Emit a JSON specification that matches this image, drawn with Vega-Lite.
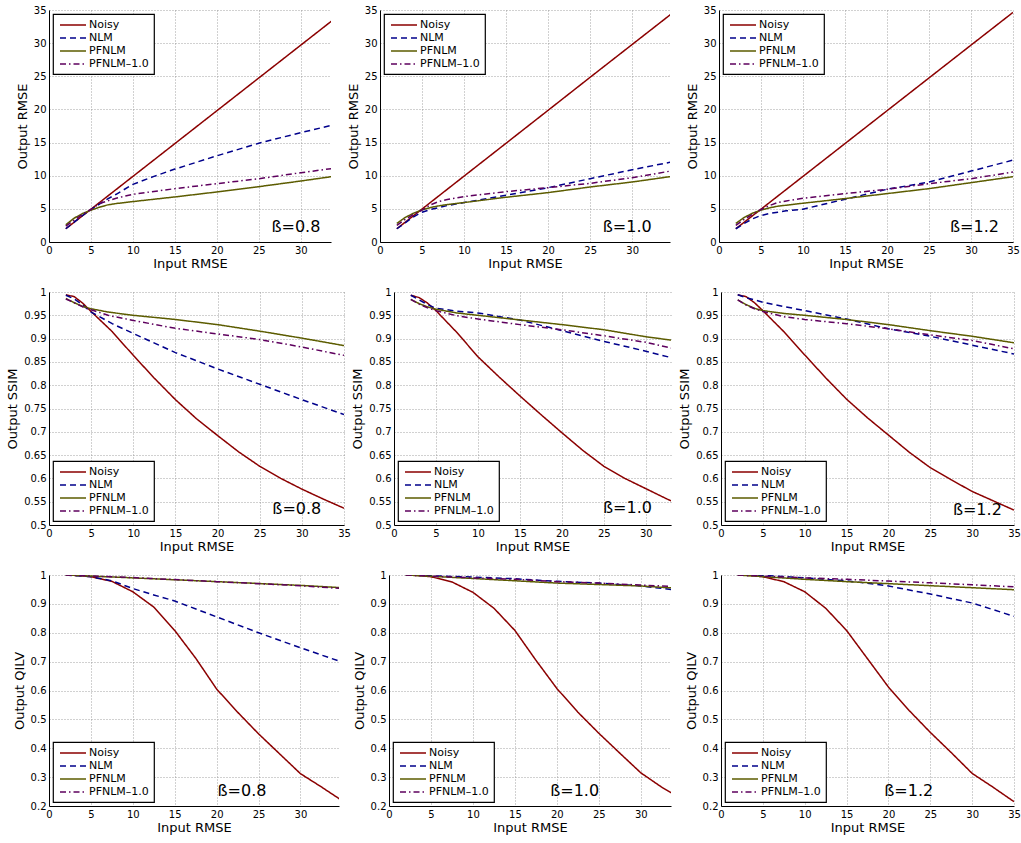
{
"$schema": "https://vega.github.io/schema/vega-lite/v6.json",
"padding": {"left": 6, "top": 5, "right": 0, "bottom": 5},
"background": "white",
"config": {
  "font": "DejaVu Sans",
  "view": {"stroke": null},
  "axis": {"labelFont": "DejaVu Sans", "labelFontSize": 10, "labelColor": "black", "titleFont": "DejaVu Sans", "titleFontSize": 13, "titleFontWeight": "normal", "titleColor": "black", "domainColor": "black", "domainWidth": 1, "ticks": false, "labelPadding": 3, "gridColor": "#8a8a8a", "gridDash": [1, 2], "gridWidth": 0.8, "grid": true, "labelFlush": false, "labelOverlap": false},
  "axisX": {"titlePadding": 2},
  "axisY": {"titlePadding": 4},
  "legend": {"strokeColor": "black", "fillColor": "white", "padding": 5, "offset": 4, "labelFont": "DejaVu Sans", "labelFontSize": 11, "labelColor": "black", "symbolType": "M-0.8,0H4.4", "symbolSize": 100, "symbolStrokeWidth": 1.5, "labelOffset": 19, "rowPadding": 2, "title": null, "cornerRadius": 0, "strokeWidth": 1.2}
},
"datasets": {
"t": [
 {"p": 1, "x": 26.5, "y": 2.2, "t": "ß=0.8"},
 {"p": 2, "x": 26.5, "y": 2.2, "t": "ß=1.0"},
 {"p": 3, "x": 27.5, "y": 2.2, "t": "ß=1.2"},
 {"p": 4, "x": 26.5, "y": 0.534, "t": "ß=0.8"},
 {"p": 5, "x": 24.9, "y": 0.536, "t": "ß=1.0"},
 {"p": 6, "x": 27.7, "y": 0.532, "t": "ß=1.2"},
 {"p": 7, "x": 20.1, "y": 0.252, "t": "ß=0.8"},
 {"p": 8, "x": 19.2, "y": 0.252, "t": "ß=1.0"},
 {"p": 9, "x": 19.5, "y": 0.252, "t": "ß=1.2"}
],
"c": [
 {"p":1,"m":"Noisy","x":2,"y":2.0},{"p":1,"m":"Noisy","x":5,"y":4.95},{"p":1,"m":"Noisy","x":10,"y":9.9},{"p":1,"m":"Noisy","x":15,"y":14.85},{"p":1,"m":"Noisy","x":20,"y":19.8},{"p":1,"m":"Noisy","x":25,"y":24.75},{"p":1,"m":"Noisy","x":30,"y":29.7},{"p":1,"m":"Noisy","x":35,"y":34.65},
 {"p":1,"m":"NLM","x":2,"y":2.0},{"p":1,"m":"NLM","x":3,"y":3.0},{"p":1,"m":"NLM","x":4,"y":4.0},{"p":1,"m":"NLM","x":5,"y":4.9},{"p":1,"m":"NLM","x":6,"y":5.7},{"p":1,"m":"NLM","x":7,"y":6.5},{"p":1,"m":"NLM","x":8,"y":7.2},{"p":1,"m":"NLM","x":10,"y":8.7},{"p":1,"m":"NLM","x":12.5,"y":9.9},{"p":1,"m":"NLM","x":15,"y":11.0},{"p":1,"m":"NLM","x":20,"y":13.0},{"p":1,"m":"NLM","x":25,"y":14.9},{"p":1,"m":"NLM","x":30,"y":16.5},{"p":1,"m":"NLM","x":35,"y":18.0},
 {"p":1,"m":"PFNLM","x":2,"y":2.6},{"p":1,"m":"PFNLM","x":3,"y":3.6},{"p":1,"m":"PFNLM","x":4,"y":4.3},{"p":1,"m":"PFNLM","x":5,"y":4.8},{"p":1,"m":"PFNLM","x":6,"y":5.25},{"p":1,"m":"PFNLM","x":7,"y":5.6},{"p":1,"m":"PFNLM","x":8,"y":5.8},{"p":1,"m":"PFNLM","x":10,"y":6.1},{"p":1,"m":"PFNLM","x":15,"y":6.8},{"p":1,"m":"PFNLM","x":20,"y":7.55},{"p":1,"m":"PFNLM","x":25,"y":8.35},{"p":1,"m":"PFNLM","x":30,"y":9.2},{"p":1,"m":"PFNLM","x":35,"y":10.1},
 {"p":1,"m":"PFNLM–1.0","x":2,"y":2.4},{"p":1,"m":"PFNLM–1.0","x":3,"y":3.3},{"p":1,"m":"PFNLM–1.0","x":4,"y":4.2},{"p":1,"m":"PFNLM–1.0","x":5,"y":4.9},{"p":1,"m":"PFNLM–1.0","x":6,"y":5.8},{"p":1,"m":"PFNLM–1.0","x":7,"y":6.2},{"p":1,"m":"PFNLM–1.0","x":8,"y":6.6},{"p":1,"m":"PFNLM–1.0","x":10,"y":7.2},{"p":1,"m":"PFNLM–1.0","x":15,"y":8.05},{"p":1,"m":"PFNLM–1.0","x":20,"y":8.8},{"p":1,"m":"PFNLM–1.0","x":25,"y":9.55},{"p":1,"m":"PFNLM–1.0","x":30,"y":10.45},{"p":1,"m":"PFNLM–1.0","x":35,"y":11.3},

 {"p":2,"m":"Noisy","x":2,"y":2.0},{"p":2,"m":"Noisy","x":5,"y":4.97},{"p":2,"m":"Noisy","x":10,"y":9.94},{"p":2,"m":"Noisy","x":15,"y":14.9},{"p":2,"m":"Noisy","x":20,"y":19.87},{"p":2,"m":"Noisy","x":25,"y":24.85},{"p":2,"m":"Noisy","x":30,"y":29.8},{"p":2,"m":"Noisy","x":35,"y":34.75},
 {"p":2,"m":"NLM","x":2,"y":2.0},{"p":2,"m":"NLM","x":3,"y":2.9},{"p":2,"m":"NLM","x":4,"y":3.8},{"p":2,"m":"NLM","x":5,"y":4.5},{"p":2,"m":"NLM","x":6,"y":4.9},{"p":2,"m":"NLM","x":7,"y":5.2},{"p":2,"m":"NLM","x":8,"y":5.5},{"p":2,"m":"NLM","x":10,"y":5.95},{"p":2,"m":"NLM","x":15,"y":7.05},{"p":2,"m":"NLM","x":20,"y":8.2},{"p":2,"m":"NLM","x":25,"y":9.55},{"p":2,"m":"NLM","x":30,"y":10.9},{"p":2,"m":"NLM","x":35,"y":12.15},
 {"p":2,"m":"PFNLM","x":2,"y":2.8},{"p":2,"m":"PFNLM","x":3,"y":3.7},{"p":2,"m":"PFNLM","x":4,"y":4.35},{"p":2,"m":"PFNLM","x":5,"y":4.85},{"p":2,"m":"PFNLM","x":6,"y":5.2},{"p":2,"m":"PFNLM","x":7,"y":5.45},{"p":2,"m":"PFNLM","x":8,"y":5.65},{"p":2,"m":"PFNLM","x":10,"y":5.95},{"p":2,"m":"PFNLM","x":15,"y":6.75},{"p":2,"m":"PFNLM","x":20,"y":7.45},{"p":2,"m":"PFNLM","x":25,"y":8.3},{"p":2,"m":"PFNLM","x":30,"y":9.05},{"p":2,"m":"PFNLM","x":35,"y":9.95},
 {"p":2,"m":"PFNLM–1.0","x":2,"y":2.5},{"p":2,"m":"PFNLM–1.0","x":3,"y":3.4},{"p":2,"m":"PFNLM–1.0","x":4,"y":4.2},{"p":2,"m":"PFNLM–1.0","x":5,"y":4.8},{"p":2,"m":"PFNLM–1.0","x":6,"y":5.6},{"p":2,"m":"PFNLM–1.0","x":7,"y":6.1},{"p":2,"m":"PFNLM–1.0","x":8,"y":6.4},{"p":2,"m":"PFNLM–1.0","x":10,"y":6.85},{"p":2,"m":"PFNLM–1.0","x":15,"y":7.6},{"p":2,"m":"PFNLM–1.0","x":20,"y":8.2},{"p":2,"m":"PFNLM–1.0","x":25,"y":8.85},{"p":2,"m":"PFNLM–1.0","x":30,"y":9.7},{"p":2,"m":"PFNLM–1.0","x":35,"y":10.8},

 {"p":3,"m":"Noisy","x":2,"y":2.0},{"p":3,"m":"Noisy","x":5,"y":4.95},{"p":3,"m":"Noisy","x":10,"y":9.9},{"p":3,"m":"Noisy","x":15,"y":14.85},{"p":3,"m":"Noisy","x":20,"y":19.8},{"p":3,"m":"Noisy","x":25,"y":24.75},{"p":3,"m":"Noisy","x":30,"y":29.7},{"p":3,"m":"Noisy","x":35,"y":34.64},
 {"p":3,"m":"NLM","x":2,"y":2.0},{"p":3,"m":"NLM","x":3,"y":2.8},{"p":3,"m":"NLM","x":4,"y":3.5},{"p":3,"m":"NLM","x":5,"y":4.0},{"p":3,"m":"NLM","x":6,"y":4.3},{"p":3,"m":"NLM","x":7,"y":4.5},{"p":3,"m":"NLM","x":8,"y":4.7},{"p":3,"m":"NLM","x":10,"y":4.95},{"p":3,"m":"NLM","x":15,"y":6.45},{"p":3,"m":"NLM","x":20,"y":7.95},{"p":3,"m":"NLM","x":25,"y":9.05},{"p":3,"m":"NLM","x":30,"y":10.7},{"p":3,"m":"NLM","x":35,"y":12.35},
 {"p":3,"m":"PFNLM","x":2,"y":2.8},{"p":3,"m":"PFNLM","x":3,"y":3.7},{"p":3,"m":"PFNLM","x":4,"y":4.35},{"p":3,"m":"PFNLM","x":5,"y":4.8},{"p":3,"m":"PFNLM","x":6,"y":5.15},{"p":3,"m":"PFNLM","x":7,"y":5.4},{"p":3,"m":"PFNLM","x":8,"y":5.55},{"p":3,"m":"PFNLM","x":10,"y":5.85},{"p":3,"m":"PFNLM","x":15,"y":6.55},{"p":3,"m":"PFNLM","x":20,"y":7.3},{"p":3,"m":"PFNLM","x":25,"y":8.05},{"p":3,"m":"PFNLM","x":30,"y":8.95},{"p":3,"m":"PFNLM","x":35,"y":9.85},
 {"p":3,"m":"PFNLM–1.0","x":2,"y":2.5},{"p":3,"m":"PFNLM–1.0","x":3,"y":3.4},{"p":3,"m":"PFNLM–1.0","x":4,"y":4.2},{"p":3,"m":"PFNLM–1.0","x":5,"y":4.9},{"p":3,"m":"PFNLM–1.0","x":6,"y":5.5},{"p":3,"m":"PFNLM–1.0","x":7,"y":5.95},{"p":3,"m":"PFNLM–1.0","x":8,"y":6.2},{"p":3,"m":"PFNLM–1.0","x":10,"y":6.6},{"p":3,"m":"PFNLM–1.0","x":15,"y":7.3},{"p":3,"m":"PFNLM–1.0","x":20,"y":7.95},{"p":3,"m":"PFNLM–1.0","x":25,"y":8.8},{"p":3,"m":"PFNLM–1.0","x":30,"y":9.55},{"p":3,"m":"PFNLM–1.0","x":35,"y":10.55},

 {"p":4,"m":"Noisy","x":2,"y":0.994},{"p":4,"m":"Noisy","x":3,"y":0.99},{"p":4,"m":"Noisy","x":4,"y":0.976},{"p":4,"m":"Noisy","x":5,"y":0.958},{"p":4,"m":"Noisy","x":7.5,"y":0.915},{"p":4,"m":"Noisy","x":10,"y":0.864},{"p":4,"m":"Noisy","x":12.5,"y":0.815},{"p":4,"m":"Noisy","x":15,"y":0.769},{"p":4,"m":"Noisy","x":17.5,"y":0.728},{"p":4,"m":"Noisy","x":20,"y":0.692},{"p":4,"m":"Noisy","x":22.5,"y":0.657},{"p":4,"m":"Noisy","x":25,"y":0.626},{"p":4,"m":"Noisy","x":27.5,"y":0.6},{"p":4,"m":"Noisy","x":30,"y":0.577},{"p":4,"m":"Noisy","x":32.5,"y":0.556},{"p":4,"m":"Noisy","x":35,"y":0.536},
 {"p":4,"m":"NLM","x":2,"y":0.993},{"p":4,"m":"NLM","x":3,"y":0.985},{"p":4,"m":"NLM","x":4,"y":0.972},{"p":4,"m":"NLM","x":5,"y":0.957},{"p":4,"m":"NLM","x":7.5,"y":0.932},{"p":4,"m":"NLM","x":10,"y":0.911},{"p":4,"m":"NLM","x":15,"y":0.87},{"p":4,"m":"NLM","x":20,"y":0.835},{"p":4,"m":"NLM","x":25,"y":0.802},{"p":4,"m":"NLM","x":30,"y":0.769},{"p":4,"m":"NLM","x":35,"y":0.737},
 {"p":4,"m":"PFNLM","x":2,"y":0.986},{"p":4,"m":"PFNLM","x":3,"y":0.977},{"p":4,"m":"PFNLM","x":4,"y":0.969},{"p":4,"m":"PFNLM","x":5,"y":0.964},{"p":4,"m":"PFNLM","x":7,"y":0.957},{"p":4,"m":"PFNLM","x":10,"y":0.95},{"p":4,"m":"PFNLM","x":15,"y":0.941},{"p":4,"m":"PFNLM","x":20,"y":0.93},{"p":4,"m":"PFNLM","x":25,"y":0.916},{"p":4,"m":"PFNLM","x":30,"y":0.901},{"p":4,"m":"PFNLM","x":35,"y":0.885},
 {"p":4,"m":"PFNLM–1.0","x":2,"y":0.985},{"p":4,"m":"PFNLM–1.0","x":3,"y":0.977},{"p":4,"m":"PFNLM–1.0","x":4,"y":0.968},{"p":4,"m":"PFNLM–1.0","x":5,"y":0.962},{"p":4,"m":"PFNLM–1.0","x":7,"y":0.95},{"p":4,"m":"PFNLM–1.0","x":10,"y":0.939},{"p":4,"m":"PFNLM–1.0","x":15,"y":0.922},{"p":4,"m":"PFNLM–1.0","x":20,"y":0.91},{"p":4,"m":"PFNLM–1.0","x":25,"y":0.898},{"p":4,"m":"PFNLM–1.0","x":30,"y":0.882},{"p":4,"m":"PFNLM–1.0","x":35,"y":0.864},

 {"p":5,"m":"Noisy","x":2,"y":0.993},{"p":5,"m":"Noisy","x":3,"y":0.988},{"p":5,"m":"Noisy","x":4,"y":0.976},{"p":5,"m":"Noisy","x":5,"y":0.96},{"p":5,"m":"Noisy","x":7.5,"y":0.913},{"p":5,"m":"Noisy","x":10,"y":0.861},{"p":5,"m":"Noisy","x":12.5,"y":0.818},{"p":5,"m":"Noisy","x":15,"y":0.777},{"p":5,"m":"Noisy","x":17.5,"y":0.737},{"p":5,"m":"Noisy","x":20,"y":0.698},{"p":5,"m":"Noisy","x":22.5,"y":0.66},{"p":5,"m":"Noisy","x":25,"y":0.626},{"p":5,"m":"Noisy","x":27.5,"y":0.6},{"p":5,"m":"Noisy","x":30,"y":0.578},{"p":5,"m":"Noisy","x":32.5,"y":0.556},{"p":5,"m":"Noisy","x":35,"y":0.536},
 {"p":5,"m":"NLM","x":2,"y":0.993},{"p":5,"m":"NLM","x":3,"y":0.983},{"p":5,"m":"NLM","x":4,"y":0.973},{"p":5,"m":"NLM","x":5,"y":0.965},{"p":5,"m":"NLM","x":7.5,"y":0.959},{"p":5,"m":"NLM","x":10,"y":0.955},{"p":5,"m":"NLM","x":15,"y":0.94},{"p":5,"m":"NLM","x":20,"y":0.917},{"p":5,"m":"NLM","x":25,"y":0.894},{"p":5,"m":"NLM","x":30,"y":0.873},{"p":5,"m":"NLM","x":35,"y":0.85},
 {"p":5,"m":"PFNLM","x":2,"y":0.984},{"p":5,"m":"PFNLM","x":3,"y":0.975},{"p":5,"m":"PFNLM","x":4,"y":0.968},{"p":5,"m":"PFNLM","x":5,"y":0.963},{"p":5,"m":"PFNLM","x":7.5,"y":0.955},{"p":5,"m":"PFNLM","x":10,"y":0.95},{"p":5,"m":"PFNLM","x":15,"y":0.94},{"p":5,"m":"PFNLM","x":20,"y":0.93},{"p":5,"m":"PFNLM","x":25,"y":0.919},{"p":5,"m":"PFNLM","x":30,"y":0.904},{"p":5,"m":"PFNLM","x":35,"y":0.892},
 {"p":5,"m":"PFNLM–1.0","x":2,"y":0.984},{"p":5,"m":"PFNLM–1.0","x":3,"y":0.974},{"p":5,"m":"PFNLM–1.0","x":4,"y":0.966},{"p":5,"m":"PFNLM–1.0","x":5,"y":0.96},{"p":5,"m":"PFNLM–1.0","x":7.5,"y":0.949},{"p":5,"m":"PFNLM–1.0","x":10,"y":0.942},{"p":5,"m":"PFNLM–1.0","x":15,"y":0.93},{"p":5,"m":"PFNLM–1.0","x":20,"y":0.919},{"p":5,"m":"PFNLM–1.0","x":25,"y":0.906},{"p":5,"m":"PFNLM–1.0","x":30,"y":0.892},{"p":5,"m":"PFNLM–1.0","x":35,"y":0.872},

 {"p":6,"m":"Noisy","x":2,"y":0.994},{"p":6,"m":"Noisy","x":3,"y":0.99},{"p":6,"m":"Noisy","x":4,"y":0.977},{"p":6,"m":"Noisy","x":5,"y":0.96},{"p":6,"m":"Noisy","x":7.5,"y":0.915},{"p":6,"m":"Noisy","x":10,"y":0.865},{"p":6,"m":"Noisy","x":12.5,"y":0.816},{"p":6,"m":"Noisy","x":15,"y":0.77},{"p":6,"m":"Noisy","x":17.5,"y":0.73},{"p":6,"m":"Noisy","x":20,"y":0.693},{"p":6,"m":"Noisy","x":22.5,"y":0.656},{"p":6,"m":"Noisy","x":25,"y":0.623},{"p":6,"m":"Noisy","x":27.5,"y":0.597},{"p":6,"m":"Noisy","x":30,"y":0.572},{"p":6,"m":"Noisy","x":32.5,"y":0.552},{"p":6,"m":"Noisy","x":35,"y":0.532},
 {"p":6,"m":"NLM","x":2,"y":0.994},{"p":6,"m":"NLM","x":3,"y":0.988},{"p":6,"m":"NLM","x":4,"y":0.983},{"p":6,"m":"NLM","x":5,"y":0.978},{"p":6,"m":"NLM","x":7.5,"y":0.969},{"p":6,"m":"NLM","x":10,"y":0.96},{"p":6,"m":"NLM","x":15,"y":0.942},{"p":6,"m":"NLM","x":20,"y":0.921},{"p":6,"m":"NLM","x":25,"y":0.905},{"p":6,"m":"NLM","x":30,"y":0.886},{"p":6,"m":"NLM","x":35,"y":0.867},
 {"p":6,"m":"PFNLM","x":2,"y":0.983},{"p":6,"m":"PFNLM","x":3,"y":0.973},{"p":6,"m":"PFNLM","x":4,"y":0.965},{"p":6,"m":"PFNLM","x":5,"y":0.96},{"p":6,"m":"PFNLM","x":7.5,"y":0.954},{"p":6,"m":"PFNLM","x":10,"y":0.95},{"p":6,"m":"PFNLM","x":15,"y":0.941},{"p":6,"m":"PFNLM","x":20,"y":0.93},{"p":6,"m":"PFNLM","x":25,"y":0.917},{"p":6,"m":"PFNLM","x":30,"y":0.905},{"p":6,"m":"PFNLM","x":35,"y":0.891},
 {"p":6,"m":"PFNLM–1.0","x":2,"y":0.983},{"p":6,"m":"PFNLM–1.0","x":3,"y":0.972},{"p":6,"m":"PFNLM–1.0","x":4,"y":0.964},{"p":6,"m":"PFNLM–1.0","x":5,"y":0.958},{"p":6,"m":"PFNLM–1.0","x":7.5,"y":0.947},{"p":6,"m":"PFNLM–1.0","x":10,"y":0.941},{"p":6,"m":"PFNLM–1.0","x":15,"y":0.932},{"p":6,"m":"PFNLM–1.0","x":20,"y":0.921},{"p":6,"m":"PFNLM–1.0","x":25,"y":0.908},{"p":6,"m":"PFNLM–1.0","x":30,"y":0.896},{"p":6,"m":"PFNLM–1.0","x":35,"y":0.878},

 {"p":7,"m":"Noisy","x":2,"y":1.0},{"p":7,"m":"Noisy","x":3,"y":0.999},{"p":7,"m":"Noisy","x":4,"y":0.997},{"p":7,"m":"Noisy","x":5,"y":0.994},{"p":7,"m":"Noisy","x":7.5,"y":0.978},{"p":7,"m":"Noisy","x":10,"y":0.942},{"p":7,"m":"Noisy","x":12.5,"y":0.889},{"p":7,"m":"Noisy","x":15,"y":0.808},{"p":7,"m":"Noisy","x":17.5,"y":0.712},{"p":7,"m":"Noisy","x":20,"y":0.605},{"p":7,"m":"Noisy","x":22.5,"y":0.525},{"p":7,"m":"Noisy","x":25,"y":0.45},{"p":7,"m":"Noisy","x":27.5,"y":0.381},{"p":7,"m":"Noisy","x":30,"y":0.312},{"p":7,"m":"Noisy","x":32.5,"y":0.266},{"p":7,"m":"Noisy","x":35,"y":0.218},
 {"p":7,"m":"NLM","x":2,"y":1.0},{"p":7,"m":"NLM","x":5,"y":0.994},{"p":7,"m":"NLM","x":7.5,"y":0.98},{"p":7,"m":"NLM","x":10,"y":0.953},{"p":7,"m":"NLM","x":12.5,"y":0.931},{"p":7,"m":"NLM","x":15,"y":0.91},{"p":7,"m":"NLM","x":20,"y":0.855},{"p":7,"m":"NLM","x":25,"y":0.8},{"p":7,"m":"NLM","x":30,"y":0.748},{"p":7,"m":"NLM","x":35,"y":0.698},
 {"p":7,"m":"PFNLM","x":2,"y":1.0},{"p":7,"m":"PFNLM","x":10,"y":0.99},{"p":7,"m":"PFNLM","x":20,"y":0.977},{"p":7,"m":"PFNLM","x":30,"y":0.964},{"p":7,"m":"PFNLM","x":35,"y":0.956},
 {"p":7,"m":"PFNLM–1.0","x":2,"y":1.0},{"p":7,"m":"PFNLM–1.0","x":10,"y":0.991},{"p":7,"m":"PFNLM–1.0","x":20,"y":0.977},{"p":7,"m":"PFNLM–1.0","x":30,"y":0.963},{"p":7,"m":"PFNLM–1.0","x":35,"y":0.953},

 {"p":8,"m":"Noisy","x":2,"y":1.0},{"p":8,"m":"Noisy","x":3,"y":0.999},{"p":8,"m":"Noisy","x":4,"y":0.997},{"p":8,"m":"Noisy","x":5,"y":0.994},{"p":8,"m":"Noisy","x":7.5,"y":0.976},{"p":8,"m":"Noisy","x":10,"y":0.94},{"p":8,"m":"Noisy","x":12.5,"y":0.885},{"p":8,"m":"Noisy","x":15,"y":0.808},{"p":8,"m":"Noisy","x":17.5,"y":0.705},{"p":8,"m":"Noisy","x":20,"y":0.607},{"p":8,"m":"Noisy","x":22.5,"y":0.525},{"p":8,"m":"Noisy","x":25,"y":0.452},{"p":8,"m":"Noisy","x":27.5,"y":0.383},{"p":8,"m":"Noisy","x":30,"y":0.315},{"p":8,"m":"Noisy","x":32.5,"y":0.265},{"p":8,"m":"Noisy","x":35,"y":0.222},
 {"p":8,"m":"NLM","x":2,"y":1.0},{"p":8,"m":"NLM","x":10,"y":0.993},{"p":8,"m":"NLM","x":15,"y":0.987},{"p":8,"m":"NLM","x":20,"y":0.978},{"p":8,"m":"NLM","x":25,"y":0.972},{"p":8,"m":"NLM","x":30,"y":0.962},{"p":8,"m":"NLM","x":35,"y":0.945},
 {"p":8,"m":"PFNLM","x":2,"y":1.0},{"p":8,"m":"PFNLM","x":10,"y":0.988},{"p":8,"m":"PFNLM","x":15,"y":0.98},{"p":8,"m":"PFNLM","x":20,"y":0.972},{"p":8,"m":"PFNLM","x":25,"y":0.967},{"p":8,"m":"PFNLM","x":30,"y":0.962},{"p":8,"m":"PFNLM","x":35,"y":0.953},
 {"p":8,"m":"PFNLM–1.0","x":2,"y":1.0},{"p":8,"m":"PFNLM–1.0","x":10,"y":0.99},{"p":8,"m":"PFNLM–1.0","x":15,"y":0.985},{"p":8,"m":"PFNLM–1.0","x":20,"y":0.977},{"p":8,"m":"PFNLM–1.0","x":25,"y":0.972},{"p":8,"m":"PFNLM–1.0","x":30,"y":0.965},{"p":8,"m":"PFNLM–1.0","x":35,"y":0.959},

 {"p":9,"m":"Noisy","x":2,"y":1.0},{"p":9,"m":"Noisy","x":3,"y":0.999},{"p":9,"m":"Noisy","x":4,"y":0.997},{"p":9,"m":"Noisy","x":5,"y":0.994},{"p":9,"m":"Noisy","x":7.5,"y":0.977},{"p":9,"m":"Noisy","x":10,"y":0.942},{"p":9,"m":"Noisy","x":12.5,"y":0.885},{"p":9,"m":"Noisy","x":15,"y":0.808},{"p":9,"m":"Noisy","x":17.5,"y":0.71},{"p":9,"m":"Noisy","x":20,"y":0.612},{"p":9,"m":"Noisy","x":22.5,"y":0.53},{"p":9,"m":"Noisy","x":25,"y":0.455},{"p":9,"m":"Noisy","x":27.5,"y":0.385},{"p":9,"m":"Noisy","x":30,"y":0.313},{"p":9,"m":"Noisy","x":32.5,"y":0.265},{"p":9,"m":"Noisy","x":35,"y":0.215},
 {"p":9,"m":"NLM","x":2,"y":1.0},{"p":9,"m":"NLM","x":5,"y":0.999},{"p":9,"m":"NLM","x":10,"y":0.99},{"p":9,"m":"NLM","x":15,"y":0.98},{"p":9,"m":"NLM","x":20,"y":0.962},{"p":9,"m":"NLM","x":25,"y":0.934},{"p":9,"m":"NLM","x":30,"y":0.903},{"p":9,"m":"NLM","x":35,"y":0.857},
 {"p":9,"m":"PFNLM","x":2,"y":1.0},{"p":9,"m":"PFNLM","x":10,"y":0.985},{"p":9,"m":"PFNLM","x":15,"y":0.977},{"p":9,"m":"PFNLM","x":20,"y":0.97},{"p":9,"m":"PFNLM","x":25,"y":0.963},{"p":9,"m":"PFNLM","x":30,"y":0.956},{"p":9,"m":"PFNLM","x":35,"y":0.949},
 {"p":9,"m":"PFNLM–1.0","x":2,"y":1.0},{"p":9,"m":"PFNLM–1.0","x":10,"y":0.99},{"p":9,"m":"PFNLM–1.0","x":15,"y":0.985},{"p":9,"m":"PFNLM–1.0","x":20,"y":0.979},{"p":9,"m":"PFNLM–1.0","x":25,"y":0.973},{"p":9,"m":"PFNLM–1.0","x":30,"y":0.966},{"p":9,"m":"PFNLM–1.0","x":35,"y":0.959}
]
},
"bounds": "full",
"spacing": 17,
"resolve": {"scale": {"color": "independent", "strokeDash": "independent"}, "legend": {"color": "independent", "strokeDash": "independent"}},
"vconcat": [
 {"bounds": "flush", "spacing": 49,
  "resolve": {"scale": {"color": "independent", "strokeDash": "independent"}, "legend": {"color": "independent", "strokeDash": "independent"}},
  "hconcat": [
  {"width": 282, "height": 232, "layer": [
   {"data": {"name": "c"}, "transform": [{"filter": "datum.p == 1"}], "mark": {"type": "line", "clip": true, "strokeWidth": 1.5},
    "encoding": {
     "x": {"field": "x", "type": "quantitative", "scale": {"domain": [0, 33.6], "nice": false, "zero": false}, "axis": {"values": [0,5,10,15,20,25,30], "tickCount": 50, "format": "d", "title": "Input RMSE"}},
     "y": {"field": "y", "type": "quantitative", "scale": {"domain": [0, 35], "nice": false}, "axis": {"values": [0,5,10,15,20,25,30,35], "tickCount": 50, "format": "d", "title": "Output RMSE"}},
     "color": {"field": "m", "type": "nominal", "scale": {"domain": ["Noisy","NLM","PFNLM","PFNLM–1.0"], "range": ["#8b0000","#00008b","#5c5c00","#5e005e"]}, "legend": {"orient": "top-left"}},
     "strokeDash": {"field": "m", "type": "nominal", "scale": {"domain": ["Noisy","NLM","PFNLM","PFNLM–1.0"], "range": [[1,0],[6,4],[1,0],[6,3,1.5,3]]}, "legend": {"orient": "top-left"}}}},
   {"data": {"name": "t"}, "transform": [{"filter": "datum.p == 1"}], "mark": {"type": "text", "align": "left", "baseline": "middle", "fontSize": 16, "font": "DejaVu Sans", "color": "black"},
    "encoding": {"x": {"field": "x", "type": "quantitative"}, "y": {"field": "y", "type": "quantitative"}, "text": {"field": "t"}}}
  ]},
  {"width": 290, "height": 232, "layer": [
   {"data": {"name": "c"}, "transform": [{"filter": "datum.p == 2"}], "mark": {"type": "line", "clip": true, "strokeWidth": 1.5},
    "encoding": {
     "x": {"field": "x", "type": "quantitative", "scale": {"domain": [0, 34.5], "nice": false, "zero": false}, "axis": {"values": [0,5,10,15,20,25,30], "tickCount": 50, "format": "d", "title": "Input RMSE"}},
     "y": {"field": "y", "type": "quantitative", "scale": {"domain": [0, 35], "nice": false}, "axis": {"values": [0,5,10,15,20,25,30,35], "tickCount": 50, "format": "d", "title": "Output RMSE"}},
     "color": {"field": "m", "type": "nominal", "scale": {"domain": ["Noisy","NLM","PFNLM","PFNLM–1.0"], "range": ["#8b0000","#00008b","#5c5c00","#5e005e"]}, "legend": {"orient": "top-left"}},
     "strokeDash": {"field": "m", "type": "nominal", "scale": {"domain": ["Noisy","NLM","PFNLM","PFNLM–1.0"], "range": [[1,0],[6,4],[1,0],[6,3,1.5,3]]}, "legend": {"orient": "top-left"}}}},
   {"data": {"name": "t"}, "transform": [{"filter": "datum.p == 2"}], "mark": {"type": "text", "align": "left", "baseline": "middle", "fontSize": 16, "font": "DejaVu Sans", "color": "black"},
    "encoding": {"x": {"field": "x", "type": "quantitative"}, "y": {"field": "y", "type": "quantitative"}, "text": {"field": "t"}}}
  ]},
  {"width": 294, "height": 232, "layer": [
   {"data": {"name": "c"}, "transform": [{"filter": "datum.p == 3"}], "mark": {"type": "line", "clip": true, "strokeWidth": 1.5},
    "encoding": {
     "x": {"field": "x", "type": "quantitative", "scale": {"domain": [0, 35], "nice": false, "zero": false}, "axis": {"values": [0,5,10,15,20,25,30,35], "tickCount": 50, "format": "d", "title": "Input RMSE"}},
     "y": {"field": "y", "type": "quantitative", "scale": {"domain": [0, 35], "nice": false}, "axis": {"values": [0,5,10,15,20,25,30,35], "tickCount": 50, "format": "d", "title": "Output RMSE"}},
     "color": {"field": "m", "type": "nominal", "scale": {"domain": ["Noisy","NLM","PFNLM","PFNLM–1.0"], "range": ["#8b0000","#00008b","#5c5c00","#5e005e"]}, "legend": {"orient": "top-left"}},
     "strokeDash": {"field": "m", "type": "nominal", "scale": {"domain": ["Noisy","NLM","PFNLM","PFNLM–1.0"], "range": [[1,0],[6,4],[1,0],[6,3,1.5,3]]}, "legend": {"orient": "top-left"}}}},
   {"data": {"name": "t"}, "transform": [{"filter": "datum.p == 3"}], "mark": {"type": "text", "align": "left", "baseline": "middle", "fontSize": 16, "font": "DejaVu Sans", "color": "black"},
    "encoding": {"x": {"field": "x", "type": "quantitative"}, "y": {"field": "y", "type": "quantitative"}, "text": {"field": "t"}}}
  ]}
 ]},
 {"bounds": "flush", "spacing": 50,
  "resolve": {"scale": {"color": "independent", "strokeDash": "independent"}, "legend": {"color": "independent", "strokeDash": "independent"}},
  "hconcat": [
  {"width": 295, "height": 233, "layer": [
   {"data": {"name": "c"}, "transform": [{"filter": "datum.p == 4"}], "mark": {"type": "line", "clip": true, "strokeWidth": 1.5},
    "encoding": {
     "x": {"field": "x", "type": "quantitative", "scale": {"domain": [0, 35], "nice": false, "zero": false}, "axis": {"values": [0,5,10,15,20,25,30,35], "tickCount": 50, "format": "d", "title": "Input RMSE"}},
     "y": {"field": "y", "type": "quantitative", "scale": {"domain": [0.5, 1], "nice": false, "zero": false}, "axis": {"values": [0.5,0.55,0.6,0.65,0.7,0.75,0.8,0.85,0.9,0.95,1], "tickCount": 50, "format": ".2~f", "title": "Output SSIM"}},
     "color": {"field": "m", "type": "nominal", "scale": {"domain": ["Noisy","NLM","PFNLM","PFNLM–1.0"], "range": ["#8b0000","#00008b","#5c5c00","#5e005e"]}, "legend": {"orient": "bottom-left"}},
     "strokeDash": {"field": "m", "type": "nominal", "scale": {"domain": ["Noisy","NLM","PFNLM","PFNLM–1.0"], "range": [[1,0],[6,4],[1,0],[6,3,1.5,3]]}, "legend": {"orient": "bottom-left"}}}},
   {"data": {"name": "t"}, "transform": [{"filter": "datum.p == 4"}], "mark": {"type": "text", "align": "left", "baseline": "middle", "fontSize": 16, "font": "DejaVu Sans", "color": "black"},
    "encoding": {"x": {"field": "x", "type": "quantitative"}, "y": {"field": "y", "type": "quantitative"}, "text": {"field": "t"}}}
  ]},
  {"width": 277, "height": 233, "layer": [
   {"data": {"name": "c"}, "transform": [{"filter": "datum.p == 5"}], "mark": {"type": "line", "clip": true, "strokeWidth": 1.5},
    "encoding": {
     "x": {"field": "x", "type": "quantitative", "scale": {"domain": [0, 33], "nice": false, "zero": false}, "axis": {"values": [0,5,10,15,20,25,30], "tickCount": 50, "format": "d", "title": "Input RMSE"}},
     "y": {"field": "y", "type": "quantitative", "scale": {"domain": [0.5, 1], "nice": false, "zero": false}, "axis": {"values": [0.5,0.55,0.6,0.65,0.7,0.75,0.8,0.85,0.9,0.95,1], "tickCount": 50, "format": ".2~f", "title": "Output SSIM"}},
     "color": {"field": "m", "type": "nominal", "scale": {"domain": ["Noisy","NLM","PFNLM","PFNLM–1.0"], "range": ["#8b0000","#00008b","#5c5c00","#5e005e"]}, "legend": {"orient": "bottom-left"}},
     "strokeDash": {"field": "m", "type": "nominal", "scale": {"domain": ["Noisy","NLM","PFNLM","PFNLM–1.0"], "range": [[1,0],[6,4],[1,0],[6,3,1.5,3]]}, "legend": {"orient": "bottom-left"}}}},
   {"data": {"name": "t"}, "transform": [{"filter": "datum.p == 5"}], "mark": {"type": "text", "align": "left", "baseline": "middle", "fontSize": 16, "font": "DejaVu Sans", "color": "black"},
    "encoding": {"x": {"field": "x", "type": "quantitative"}, "y": {"field": "y", "type": "quantitative"}, "text": {"field": "t"}}}
  ]},
  {"width": 293, "height": 233, "layer": [
   {"data": {"name": "c"}, "transform": [{"filter": "datum.p == 6"}], "mark": {"type": "line", "clip": true, "strokeWidth": 1.5},
    "encoding": {
     "x": {"field": "x", "type": "quantitative", "scale": {"domain": [0, 35], "nice": false, "zero": false}, "axis": {"values": [0,5,10,15,20,25,30,35], "tickCount": 50, "format": "d", "title": "Input RMSE"}},
     "y": {"field": "y", "type": "quantitative", "scale": {"domain": [0.5, 1], "nice": false, "zero": false}, "axis": {"values": [0.5,0.55,0.6,0.65,0.7,0.75,0.8,0.85,0.9,0.95,1], "tickCount": 50, "format": ".2~f", "title": "Output SSIM"}},
     "color": {"field": "m", "type": "nominal", "scale": {"domain": ["Noisy","NLM","PFNLM","PFNLM–1.0"], "range": ["#8b0000","#00008b","#5c5c00","#5e005e"]}, "legend": {"orient": "bottom-left"}},
     "strokeDash": {"field": "m", "type": "nominal", "scale": {"domain": ["Noisy","NLM","PFNLM","PFNLM–1.0"], "range": [[1,0],[6,4],[1,0],[6,3,1.5,3]]}, "legend": {"orient": "bottom-left"}}}},
   {"data": {"name": "t"}, "transform": [{"filter": "datum.p == 6"}], "mark": {"type": "text", "align": "left", "baseline": "middle", "fontSize": 16, "font": "DejaVu Sans", "color": "black"},
    "encoding": {"x": {"field": "x", "type": "quantitative"}, "y": {"field": "y", "type": "quantitative"}, "text": {"field": "t"}}}
  ]}
 ]},
 {"bounds": "flush", "spacing": 50,
  "resolve": {"scale": {"color": "independent", "strokeDash": "independent"}, "legend": {"color": "independent", "strokeDash": "independent"}},
  "hconcat": [
  {"width": 290, "height": 231, "layer": [
   {"data": {"name": "c"}, "transform": [{"filter": "datum.p == 7"}], "mark": {"type": "line", "clip": true, "strokeWidth": 1.5},
    "encoding": {
     "x": {"field": "x", "type": "quantitative", "scale": {"domain": [0, 34.6], "nice": false, "zero": false}, "axis": {"values": [0,5,10,15,20,25,30], "tickCount": 50, "format": "d", "title": "Input RMSE"}},
     "y": {"field": "y", "type": "quantitative", "scale": {"domain": [0.2, 1], "nice": false, "zero": false}, "axis": {"values": [0.2,0.3,0.4,0.5,0.6,0.7,0.8,0.9,1], "tickCount": 50, "format": ".1~f", "title": "Output QILV"}},
     "color": {"field": "m", "type": "nominal", "scale": {"domain": ["Noisy","NLM","PFNLM","PFNLM–1.0"], "range": ["#8b0000","#00008b","#5c5c00","#5e005e"]}, "legend": {"orient": "bottom-left"}},
     "strokeDash": {"field": "m", "type": "nominal", "scale": {"domain": ["Noisy","NLM","PFNLM","PFNLM–1.0"], "range": [[1,0],[6,4],[1,0],[6,3,1.5,3]]}, "legend": {"orient": "bottom-left"}}}},
   {"data": {"name": "t"}, "transform": [{"filter": "datum.p == 7"}], "mark": {"type": "text", "align": "left", "baseline": "middle", "fontSize": 16, "font": "DejaVu Sans", "color": "black"},
    "encoding": {"x": {"field": "x", "type": "quantitative"}, "y": {"field": "y", "type": "quantitative"}, "text": {"field": "t"}}}
  ]},
  {"width": 282, "height": 231, "layer": [
   {"data": {"name": "c"}, "transform": [{"filter": "datum.p == 8"}], "mark": {"type": "line", "clip": true, "strokeWidth": 1.5},
    "encoding": {
     "x": {"field": "x", "type": "quantitative", "scale": {"domain": [0, 33.6], "nice": false, "zero": false}, "axis": {"values": [0,5,10,15,20,25,30], "tickCount": 50, "format": "d", "title": "Input RMSE"}},
     "y": {"field": "y", "type": "quantitative", "scale": {"domain": [0.2, 1], "nice": false, "zero": false}, "axis": {"values": [0.2,0.3,0.4,0.5,0.6,0.7,0.8,0.9,1], "tickCount": 50, "format": ".1~f", "title": "Output QILV"}},
     "color": {"field": "m", "type": "nominal", "scale": {"domain": ["Noisy","NLM","PFNLM","PFNLM–1.0"], "range": ["#8b0000","#00008b","#5c5c00","#5e005e"]}, "legend": {"orient": "bottom-left"}},
     "strokeDash": {"field": "m", "type": "nominal", "scale": {"domain": ["Noisy","NLM","PFNLM","PFNLM–1.0"], "range": [[1,0],[6,4],[1,0],[6,3,1.5,3]]}, "legend": {"orient": "bottom-left"}}}},
   {"data": {"name": "t"}, "transform": [{"filter": "datum.p == 8"}], "mark": {"type": "text", "align": "left", "baseline": "middle", "fontSize": 16, "font": "DejaVu Sans", "color": "black"},
    "encoding": {"x": {"field": "x", "type": "quantitative"}, "y": {"field": "y", "type": "quantitative"}, "text": {"field": "t"}}}
  ]},
  {"width": 293, "height": 231, "layer": [
   {"data": {"name": "c"}, "transform": [{"filter": "datum.p == 9"}], "mark": {"type": "line", "clip": true, "strokeWidth": 1.5},
    "encoding": {
     "x": {"field": "x", "type": "quantitative", "scale": {"domain": [0, 35], "nice": false, "zero": false}, "axis": {"values": [0,5,10,15,20,25,30,35], "tickCount": 50, "format": "d", "title": "Input RMSE"}},
     "y": {"field": "y", "type": "quantitative", "scale": {"domain": [0.2, 1], "nice": false, "zero": false}, "axis": {"values": [0.2,0.3,0.4,0.5,0.6,0.7,0.8,0.9,1], "tickCount": 50, "format": ".1~f", "title": "Output QILV"}},
     "color": {"field": "m", "type": "nominal", "scale": {"domain": ["Noisy","NLM","PFNLM","PFNLM–1.0"], "range": ["#8b0000","#00008b","#5c5c00","#5e005e"]}, "legend": {"orient": "bottom-left"}},
     "strokeDash": {"field": "m", "type": "nominal", "scale": {"domain": ["Noisy","NLM","PFNLM","PFNLM–1.0"], "range": [[1,0],[6,4],[1,0],[6,3,1.5,3]]}, "legend": {"orient": "bottom-left"}}}},
   {"data": {"name": "t"}, "transform": [{"filter": "datum.p == 9"}], "mark": {"type": "text", "align": "left", "baseline": "middle", "fontSize": 16, "font": "DejaVu Sans", "color": "black"},
    "encoding": {"x": {"field": "x", "type": "quantitative"}, "y": {"field": "y", "type": "quantitative"}, "text": {"field": "t"}}}
  ]}
 ]}
]
}
